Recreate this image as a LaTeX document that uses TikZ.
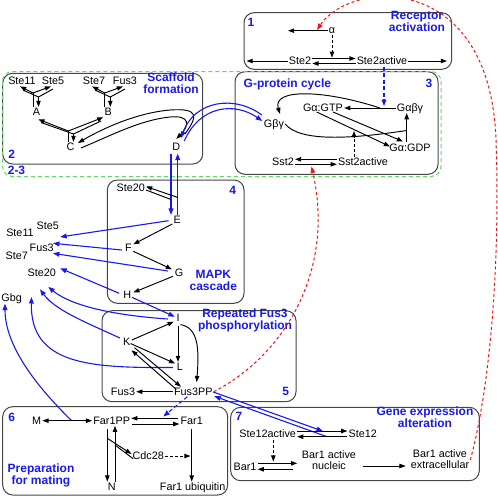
\documentclass[tikz,border=0pt]{standalone}
\usepackage{fontspec}
\setmainfont{Liberation Sans}
\usetikzlibrary{arrows.meta,calc}
\definecolor{myblue}{RGB}{25,25,235}
\definecolor{mygreen}{RGB}{100,215,100}
\definecolor{myred}{RGB}{240,20,20}
\definecolor{frame}{RGB}{70,70,70}
\begin{document}
\begin{tikzpicture}[x=1pt,y=-1pt,
 lbl/.style={font=\fontsize{10.8}{11}\selectfont, inner sep=1pt, text height=7.7pt, text depth=0pt, align=center},
 ttl/.style={font=\bfseries\fontsize{12}{12}\selectfont, text=myblue, inner sep=0pt, text height=8.6pt, text depth=0pt, align=center},
 panel/.style={draw=frame, line width=1pt, rounded corners=10pt},
 arr/.style={-{Triangle[length=6.2pt,width=4.4pt]}, line width=0.95pt},
 darr/.style={{Triangle[length=6.2pt,width=4.4pt]}-{Triangle[length=6.2pt,width=4.4pt]}, line width=0.95pt},
 ln/.style={line width=0.95pt},
 barr/.style={-{Triangle[length=6.5pt,width=4.8pt]}, draw=myblue, line width=1.1pt},
 bdash/.style={barr, dash pattern=on 4pt off 2.5pt},
 kdash/.style={arr, dash pattern=on 3pt off 2pt},
 rarr/.style={-{Triangle[length=6.5pt,width=4.8pt]}, draw=myred, line width=1pt, dash pattern=on 3pt off 2.5pt},
]
\useasboundingbox (0,0) rectangle (498,496);

% ---------- panels ----------
\draw[panel] (244,12.7) rectangle (451.7,69.3);
\draw[panel] (2.7,73.3) rectangle (202.7,164);
\draw[panel] (235,71.7) rectangle (438,174.3);
\draw[draw=mygreen, line width=1pt, dash pattern=on 4pt off 3pt, rounded corners=10pt] (2.5,71.5) rectangle (441,176.5);
\draw[panel] (107.3,180) rectangle (244,303.3);
\draw[panel] (102,310.7) rectangle (296,401.7);
\draw[panel] (2.7,406.7) rectangle (227.7,495);
\draw[panel] (230.7,407.3) rectangle (479.3,480.7);

% ---------- titles and numbers ----------
\node[ttl] (n1) at (251,22) {1};
\node[ttl] (n2) at (11.7,154) {2};
\node[ttl] (n23) at (16.5,170) {2-3};
\node[ttl] (n3) at (429,83) {3};
\node[ttl] (n4) at (232.7,190) {4};
\node[ttl] (n5) at (285.7,390.7) {5};
\node[ttl] (n6) at (11.7,417.3) {6};
\node[ttl] (n7) at (239,415.7) {7};
\node[ttl] (t1) at (417,26.7) {Receptor\\activation};
\node[ttl] (t2) at (171,88.7) {Scaffold\\formation};
\node[ttl, anchor=west] (t3) at (243.5,82.7) {G-protein cycle};
\node[ttl] (t4) at (213.3,286) {MAPK\\cascade};
\node[ttl] (t5) at (245,325) {Repeated Fus3\\phosphorylation};
\node[ttl] (t6) at (41,480.3) {Preparation\\for mating};
\node[ttl] (t7) at (425,422.7) {Gene expression\\alteration};

% ---------- nodes ----------
\node[lbl] (alpha) at (332,29.7) {α};
\node[lbl] (ste2) at (300,61) {Ste2};
\node[lbl] (ste2a) at (382,61) {Ste2active};
\node[lbl] (gbg) at (274,124) {Gβγ};
\node[lbl] (gtp) at (323,108) {Gα:GTP};
\node[lbl] (gabg) at (410,108) {Gαβγ};
\node[lbl] (gdp) at (410,147.5) {Gα:GDP};
\node[lbl] (sst2) at (283,162) {Sst2};
\node[lbl] (sst2a) at (363,162) {Sst2active};

\node[lbl] (ste11) at (22,81) {Ste11};
\node[lbl] (ste5) at (53,81) {Ste5};
\node[lbl] (ste7) at (94,81) {Ste7};
\node[lbl] (fus3a) at (125,81) {Fus3};
\node[lbl] (A) at (36.5,112) {A};
\node[lbl] (B) at (108.3,112) {B};
\node[lbl] (C) at (70.5,147) {C};
\node[lbl] (D) at (176.3,147) {D};

\node[lbl] (ste20a) at (130.7,188) {Ste20};
\node[lbl] (E) at (177.3,220) {E};
\node[lbl] (F) at (128.3,247.3) {F};
\node[lbl] (G) at (179,272.3) {G};
\node[lbl] (H) at (127.3,295) {H};

\node[lbl] (ste11b) at (20,233) {Ste11};
\node[lbl] (ste5b) at (47.7,226) {Ste5};
\node[lbl] (fus3b) at (41.7,247.3) {Fus3};
\node[lbl] (ste7b) at (16.7,256) {Ste7};
\node[lbl] (ste20b) at (41.7,272.7) {Ste20};
\node[lbl] (gbgb) at (11.7,297.5) {Gbg};

\node[lbl] (I) at (178,317.5) {I};
\node[lbl] (K) at (126.7,342) {K};
\node[lbl] (L) at (180,367) {L};
\node[lbl] (fus3pp) at (193.3,391.7) {Fus3PP};
\node[lbl] (fus3c) at (123,391.7) {Fus3};

\node[lbl] (M) at (36.7,420.7) {M};
\node[lbl] (far1pp) at (111.7,420.7) {Far1PP};
\node[lbl] (far1) at (191.7,420.7) {Far1};
\node[lbl] (cdc28) at (148.3,456) {Cdc28};
\node[lbl] (N) at (111.7,486.7) {N};
\node[lbl] (far1u) at (192.7,486.7) {Far1 ubiquitin};

\node[lbl] (ste12a) at (267.7,434) {Ste12active};
\node[lbl] (ste12) at (362.7,434) {Ste12};
\node[lbl] (bar1) at (245,466.7) {Bar1};
\node[lbl] (bar1n) at (329,466) {Bar1 active\\nucleic};
\node[lbl] (bar1e) at (440,465) {Bar1 active\\extracellular};

% ---------- free-end coordinates ----------
\coordinate (alphaL) at (288,30.7);
\coordinate (alphared) at (317,30);
\coordinate (ste2L) at (246.5,61);
\coordinate (ste2aR) at (447,61);
\coordinate (gsplit) at (380,108);
\coordinate (gjoin) at (406.7,130.5);
\coordinate (sstred) at (311.5,166.5);
\coordinate (ste20j1) at (177.7,197.5);
\coordinate (ste20j2) at (171,199.5);
\coordinate (Ltip) at (31.5,297);
\coordinate (mfj) at (71.7,420.7);
\coordinate (s12j1) at (323,431.2);
\coordinate (s12j2) at (326.7,436.6);
\coordinate (f1dash) at (163.3,416.5);
\coordinate (cj1) at (107.3,438.3);
\coordinate (cj2) at (115,445);
\coordinate (f1mid) at (190.5,456);

% ---------- box 1 ----------
\draw[arr] ($(alpha.west)+(0,1)$) -- (alphaL);
\draw[kdash] (alpha.south) -- ++(0,23);
\draw[arr] ($(ste2.east)+(0,-2.5)$) -- ($(ste2a.west)+(0,-2.5)$);
\draw[arr] ($(ste2a.west)+(0,2.5)$) -- ($(ste2.east)+(0,2.5)$);
\draw[arr] (ste2.west) -- (ste2L);
\draw[arr] (ste2a.east) -- (ste2aR);

% ---------- box 3 ----------
\draw[bdash] ($(ste2a.south)+(2,0.5)$) -- ++(0,39.5);
\draw[arr] (gabg.west) -- (gtp.east);
\draw[arr] (gsplit) .. controls (325,90) and (272,88) .. ($(gbg.north)+(6,-5)$);
\draw[ln] (gbg.east) .. controls (300,142) and (350,139) .. (gjoin);
\draw[arr] ($(gdp.north)+(-3.3,0)$) -- ($(gabg.south)+(-3.3,0)$);
\draw[arr] ($(gtp)+(-6.3,4)$) -- ($(gdp)+(-20,-1)$);
\draw[arr] ($(gtp)+(10,4)$) -- ($(gdp)+(-7,-6)$);
\draw[kdash] ($(sst2a.north)+(-9,0)$) -- ++(0,-26);
\draw[arr] ($(sst2a.west)+(0,-2.7)$) -- ($(sst2.east)+(0,-2.7)$);
\draw[arr] ($(sst2.east)+(0,2.3)$) -- ($(sst2a.west)+(0,2.3)$);

% ---------- box 2 ----------
\foreach \X/\Lt/\Rt in {A/ste11/ste5,B/ste7/fus3a}{
  \coordinate (\X-d) at ($(\X)+(-3.5,-19)$);
  \coordinate (\X-a) at ($(\X)+(2,-15)$);
  \draw[ln] ($(\X.north)+(-3.5,0.5)$) -- (\X-d);
  \draw[arr] (\X-d) -- ($(\Lt.south)+(-2,0.3)$);
  \draw[arr] (\X-d) -- ($(\Rt.south)+(-2,0.3)$);
  \draw[ln] ($(\Lt.south)+(1,4)$) -- (\X-a) -- ($(\Rt.south)+(0,3)$);
  \draw[arr] (\X-a) -- ($(\X.north)+(2,0)$);
}
\coordinate (C-d) at ($(C)+(-2.2,-16)$);
\coordinate (C-a) at ($(C)+(3,-13)$);
\draw[ln] ($(C.north)+(-2.2,0.5)$) -- (C-d);
\draw[arr] (C-d) -- ($(A)+(1.8,7.3)$);
\draw[arr] (C-d) -- ($(B)+(-5,5.3)$);
\draw[ln] ($(A)+(4.5,10.5)$) -- (C-a) -- ($(B)+(-7.3,9)$);
\draw[arr] (C-a) -- ($(C.north)+(3,0)$);
% C <-> D
\draw[arr] ($(D)+(8.7,-13)$) .. controls (198,116) and (199,108) .. (170,110) .. controls (135,113) and (100,130) .. ($(C)+(7.5,-4)$);
\draw[arr] ($(C)+(10.5,1)$) .. controls (110,136) and (140,120) .. (170,117) .. controls (190,115) and (190,125) .. ($(D)+(0,-8)$);
% D <-> Gbg
\draw[barr] ($(gbg.west)+(-1,-9)$) .. controls (235,95) and (195,100) .. ($(D)+(4.7,-9)$);
\draw[barr] ($(D)+(8,-6)$) .. controls (200,105) and (235,102) .. ($(gbg.west)+(-0.5,-3)$);

% ---------- box 4 ----------
\draw[barr] ($(D.south)+(-5.3,1.5)$) -- ($(E.north)+(-6.3,0)$);
\draw[barr] ($(E.north)+(0.4,0)$) -- ($(D.south)+(1.4,1.5)$);
\draw[arr] (ste20j1) -- ($(ste20a.east)+(0,-1.5)$);
\draw[ln] ($(ste20a.east)+(0,2)$) -- (ste20j2);
\draw[arr] ($(E)+(-5,4)$) -- ($(F)+(5,-3)$);
\draw[arr] ($(F)+(5,4)$) -- ($(G)+(-7,-3)$);
\draw[arr] ($(G)+(-6,4)$) -- ($(H)+(6,-2.5)$);

% blue arrows to the left
\draw[barr] ($(E.west)+(-4,0.7)$) -- ($(ste5b.south east)+(0.2,5.9)$);
\draw[barr] ($(F.west)+(-2,2.7)$) -- ($(fus3b.east)+(-2,-4)$);
\draw[barr] ($(G.west)+(-5.8,-1.3)$) -- ($(fus3b.east)+(-2,6)$);
\draw[barr] ($(H.west)+(-3,-1.7)$) -- ($(ste20b.east)+(3.2,-4.4)$);
\draw[barr] ($(H.east)+(-0.5,2.3)$) -- ($(I.west)+(-0.5,-0.8)$);
\draw[barr] ($(I.west)+(-7.5,1.5)$) .. controls (110,315) and (70,305) .. ($(ste20b.south)+(6.6,9.1)$);
\draw[barr] ($(K.west)+(-2,-4)$) .. controls (85,322) and (55,310) .. ($(ste20b.south)+(-1.7,11.5)$);
\draw[barr] ($(L.west)+(-2.7,0.5)$) .. controls (90,368) and (30,365) .. (Ltip);
\draw[barr] (mfj) .. controls (35,385) and (5,345) .. ($(gbgb.south)+(-6.7,1)$);

% ---------- box 5 ----------
\draw[arr] ($(K.east)+(0.4,-2)$) -- ($(I.west)+(-1.5,4.2)$);
\draw[arr] ($(I.south)+(0,3)$) -- (I.south |- L.north);
\draw[arr] ($(I.south)+(2.5,2)$) .. controls (199,328) and (199,350) .. ($(fus3pp.north)+(3.4,-4.5)$);
\draw[arr] ($(K.east)+(-1,1.5)$) -- ($(L.west)+(-0.7,-3.5)$);
\draw[arr] ($(fus3pp.west)+(3.5,-2.2)$) -- ($(K.south)+(4.8,3.15)$);
\draw[arr] ($(K.south)+(7.8,0.65)$) -- ($(fus3pp.north)+(-12.3,0.15)$);
\draw[arr] (fus3pp.west) -- (fus3c.east);
\draw[barr] ($(fus3pp.east)+(-0.5,0.3)$) -- (s12j1);
\draw[barr] (s12j2) -- ($(fus3pp.east)+(0.5,4.5)$);

% red dashed
\draw[rarr] (fus3pp.east) .. controls (285,355) and (335,270) .. (sstred);
\draw[rarr] (bar1e.north east) .. controls (492,380) and (500,250) .. (496,140) .. controls (490,-30) and (350,-20) .. (alphared);

% ---------- box 7 ----------
\draw[arr] ($(ste12a.east)+(0,-3)$) -- ($(ste12.west)+(0,-3)$);
\draw[arr] ($(ste12.west)+(0,2.7)$) -- ($(ste12a.east)+(0,2.7)$);
\draw[kdash] ($(ste12a.south)+(5.6,1)$) -- ++(0,21.5);
\draw[arr] ($(bar1.east)+(0,-3.4)$) -- ($(bar1n.west)+(-3.5,-2.7)$);
\draw[arr] ($(bar1n.west)+(-8,3.3)$) -- ($(bar1.east)+(0,2.6)$);
\draw[arr] ($(bar1n.east)+(6,0)$) -- ($(bar1e.west)+(-4,1)$);

% ---------- box 6 ----------
\draw[darr] (M.east) -- (far1pp.west);
\draw[arr] ($(far1.west)+(-1.3,-2.4)$) -- ($(far1pp.east)+(0,-2.4)$);
\draw[arr] ($(far1pp.east)+(1,3.3)$) -- ($(far1.west)+(0,3.3)$);
\draw[bdash] ($(fus3pp.south)+(-6,0)$) -- (f1dash);
\draw[arr] ($(far1pp.south)+(-4.4,3)$) -- ($(N.north)+(-4.4,0)$);
\draw[arr] ($(N.north)+(3.3,0)$) -- ($(far1pp.south)+(3.3,0)$);
\draw[arr] (cj1) -- ($(cdc28.west)+(0,-2)$);
\draw[ln] ($(cdc28.west)+(1.6,2.7)$) -- (cj2);
\draw[kdash] (cdc28.east) -- (f1mid);
\draw[arr] ($(far1.south)+(0,3)$) -- (far1.south |- far1u.north);
\end{tikzpicture}
\end{document}
